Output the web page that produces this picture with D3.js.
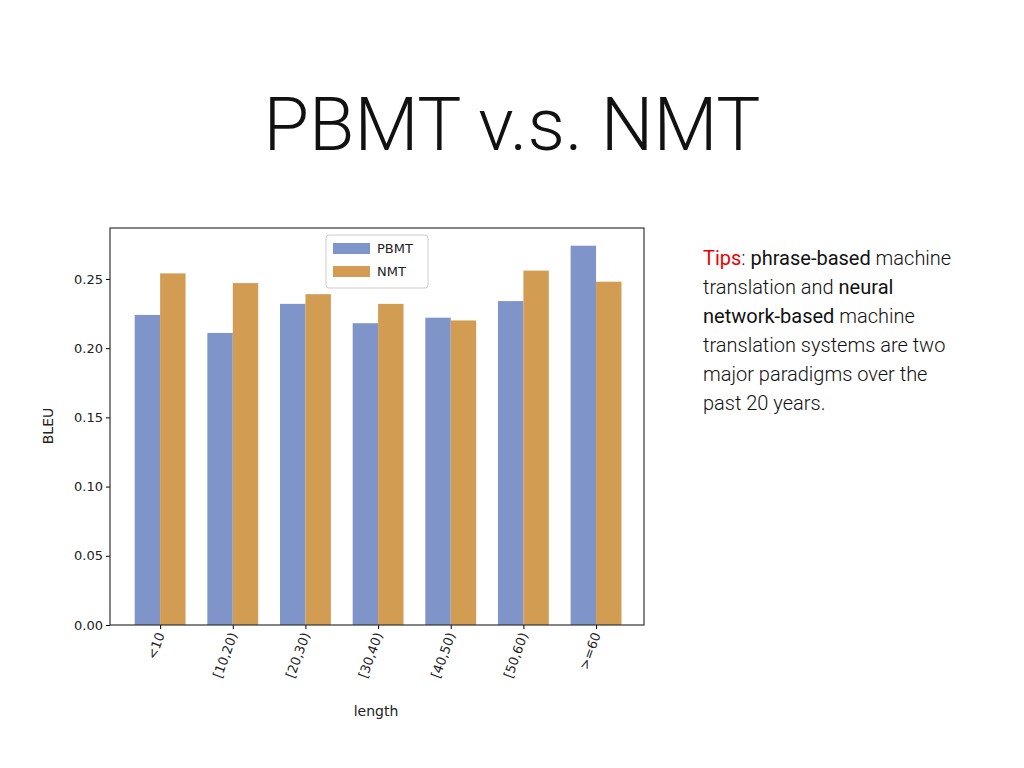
<!DOCTYPE html>
<html><head><meta charset="utf-8">
<script src="https://cdn.jsdelivr.net/npm/d3@7"></script>
<style>body{margin:0;background:#fff}</style></head>
<body><svg id="c" width="1024" height="768"></svg>
<script>
const categories = ["<10","[10,20)","[20,30)","[30,40)","[40,50)","[50,60)",">=60"];
const pbmt = [0.224,0.211,0.232,0.218,0.222,0.234,0.274];
const nmt = [0.254,0.247,0.239,0.232,0.220,0.256,0.248];
const yTicks = [0,0.05,0.10,0.15,0.20,0.25];
const series = [{name:"PBMT",values:pbmt,color:"#7f95c9",off:-0.175},{name:"NMT",values:nmt,color:"#d39c53",off:0.175}];

const svg = d3.select("#c");
svg.append("text").attr("x",512).attr("y",150).attr("text-anchor","middle")
  .style("font-family","Roboto").style("font-weight",300).style("font-size","74px").attr("fill","#111").text("PBMT v.s. NMT");

const L=110,R=644,T=228,B=625;
const x = d3.scaleLinear().domain([-0.69,6.66]).range([L,R]);
const y = d3.scaleLinear().domain([0,0.2868]).range([B,T]);
const bw = x(0.35)-x(0);
const g = svg.append("g");
series.forEach(s=>{
  g.selectAll(null).data(s.values).enter().append("rect")
    .attr("x",(d,i)=>x(i+s.off)-bw/2).attr("width",bw)
    .attr("y",d=>y(d)).attr("height",d=>B-y(d)).attr("fill",s.color);
});
const ff = "DejaVu Sans";
const ya = svg.append("g").attr("transform",`translate(${L},0)`)
  .call(d3.axisLeft(y).tickValues(yTicks).tickFormat(d3.format(".2f")).tickSize(4));
ya.selectAll("text").style("font-family",ff).style("font-size","13px").attr("fill","#222");
ya.select(".domain").remove();
const xa = svg.append("g").attr("transform",`translate(0,${B})`)
  .call(d3.axisBottom(x).tickValues(d3.range(categories.length)).tickFormat(i=>categories[i]).tickSize(4));
xa.select(".domain").remove();
xa.selectAll("text").style("font-family",ff).style("font-size","13px").attr("fill","#222")
  .attr("text-anchor","end").attr("dy","0.35em").attr("transform","translate(0,8) rotate(-70)").attr("y",0).attr("x",0);
svg.append("rect").attr("x",L).attr("y",T).attr("width",R-L).attr("height",B-T).attr("fill","none").attr("stroke","#333").attr("stroke-width",1.2);
svg.append("text").attr("x",376).attr("y",716).attr("text-anchor","middle").style("font-family",ff).style("font-size","14px").attr("fill","#222").text("length");
svg.append("text").attr("transform","translate(53,426) rotate(-90)").attr("text-anchor","middle").style("font-family",ff).style("font-size","14px").attr("fill","#222").text("BLEU");

const lg = svg.append("g");
lg.append("rect").attr("x",326).attr("y",235).attr("width",102).attr("height",53).attr("rx",3).attr("fill","#fff").attr("stroke","#ccc");
series.forEach((s,i)=>{
  lg.append("rect").attr("x",333).attr("y",243+i*23).attr("width",37).attr("height",11).attr("fill",s.color);
  lg.append("text").attr("x",377).attr("y",253+i*23).style("font-family",ff).style("font-size","13px").attr("fill","#222").text(s.name);
});

const lines = [
 [["Tips","#e00",400],[": ","#111",300],["phrase-based","#111",400],[" machine","#111",300]],
 [["translation and ","#111",300],["neural","#111",400]],
 [["network-based","#111",400],[" machine","#111",300]],
 [["translation systems are two","#111",300]],
 [["major paradigms over the","#111",300]],
 [["past 20 years.","#111",300]]
];
lines.forEach((ln,i)=>{
  const t = svg.append("text").attr("x",703).attr("y",265+i*29).style("font-family","Roboto").style("font-size","20px");
  ln.forEach(p=>t.append("tspan").attr("fill",p[1]).style("font-weight",p[2]).text(p[0]));
});
</script></body></html>
